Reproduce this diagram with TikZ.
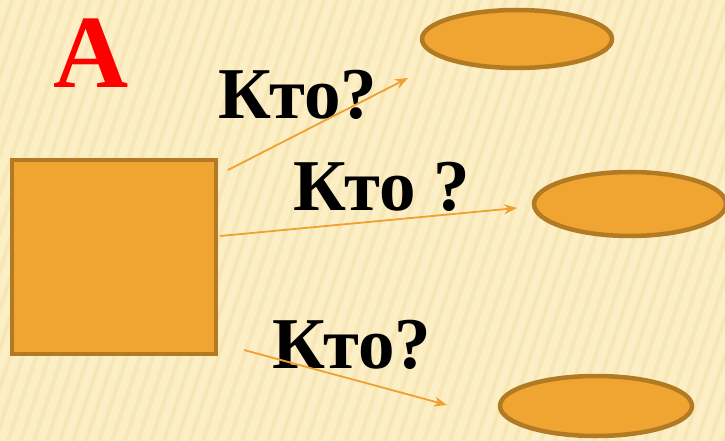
\documentclass[tikz,border=0pt]{standalone}
\usepackage{fontspec}
\setmainfont{Liberation Serif}
\usetikzlibrary{arrows.meta,shapes.geometric}
\definecolor{bg}{HTML}{FCEFC6}
\definecolor{stripe}{HTML}{F7E6B6}
\definecolor{orangefill}{HTML}{F0A432}
\definecolor{brownline}{HTML}{B27A22}
\definecolor{arrowc}{HTML}{F0A030}
\tikzset{
  box/.style={draw=brownline, fill=orangefill, line width=4pt, inner sep=0pt},
  oval/.style={ellipse, draw=brownline, fill=orangefill, line width=4.5pt, inner sep=0pt},
  who/.style={font=\bfseries\fontsize{73}{73}\selectfont, anchor=base west, inner sep=0pt},
  pointer/.style={arrowc, line width=1.8pt, -{Stealth[length=13pt,width=10pt]}}
}
\begin{document}
\begin{tikzpicture}[x=1pt,y=-1pt]
\fill[bg] (0,0) rectangle (725,441);
\useasboundingbox (0,0) rectangle (725,441);
\begin{scope}
\clip (0,0) rectangle (725,441);
\foreach \i in {-200,-187,...,730} \draw[stripe, line width=4pt] (\i,441) -- ++(147,-441);
\end{scope}
\node[box, minimum width=204pt, minimum height=194pt] (sq) at (114,257) {};
\node[oval, minimum width=190pt, minimum height=58pt] (e1) at (517,39) {};
\node[oval, minimum width=192pt, minimum height=64pt] (e2) at (630,204) {};
\node[oval, minimum width=192pt, minimum height=60pt] (e3) at (596,406) {};
\node[anchor=base west, inner sep=0pt, text=red, font=\bfseries\fontsize{104}{104}\selectfont] (lettera) at (53,88) {А};
\node[who] (t1) at (218,118) {Кто?};
\node[who] (t2) at (293,210) {Кто ?};
\node[who] (t3) at (272,368) {Кто?};
\coordinate (s1) at (228,170);
\coordinate (f1) at (408,78);
\coordinate (s2) at (220,236);
\coordinate (f2) at (517,208);
\coordinate (s3) at (244,350);
\coordinate (f3) at (447,405);
\draw[pointer] (s1) -- (f1);
\draw[pointer] (s2) -- (f2);
\draw[pointer] (s3) -- (f3);
\end{tikzpicture}
\end{document}
